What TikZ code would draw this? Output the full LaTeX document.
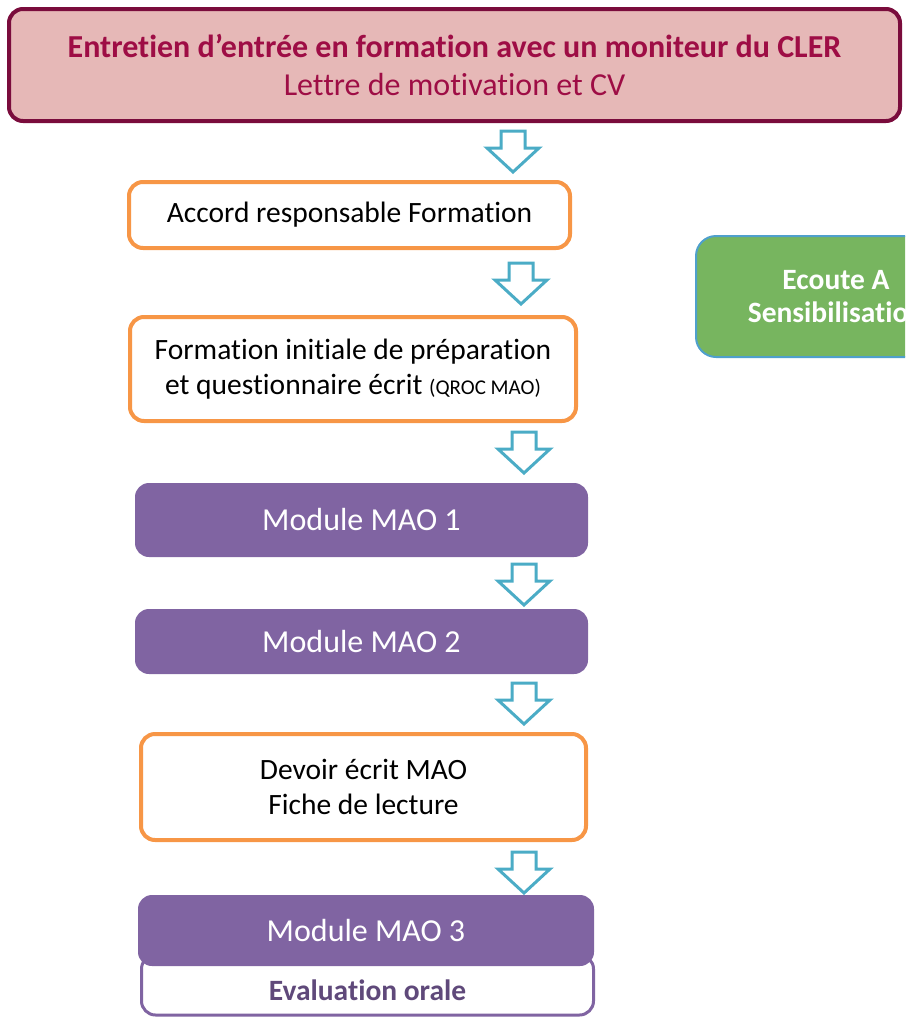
\documentclass[tikz,border=0pt]{standalone}
\usepackage{fontspec}
\setmainfont[Ligatures=NoCommon]{Carlito}

\definecolor{cadre}{HTML}{7A0C3C}
\definecolor{titre}{HTML}{9E0D45}
\definecolor{rose}{HTML}{E6B8B7}
\definecolor{orange}{HTML}{F79646}
\definecolor{mauve}{HTML}{8064A2}
\definecolor{mauvefonce}{HTML}{5F497A}
\definecolor{fleche}{HTML}{4BACC6}
\definecolor{vert}{HTML}{77B55F}
\definecolor{bordvert}{HTML}{4FA0CC}

\begin{document}
\begin{tikzpicture}
		[
		x = 1pt, y = -1pt,
		box/.style = {rectangle, rounded corners = 14pt, align = center, inner sep = 0pt},
		orangebox/.style = {box, draw = orange, line width = 4pt, fill = white, text = black, font = \fontsize{29.5}{35}\selectfont},
		purplebox/.style = {box, fill = mauve, text = white, font = \fontsize{32}{36}\selectfont},
		blockarrow/.pic = {
			\draw [fleche, line width = 3pt, fill = white]
			(-12,-41) -- (12,-41) -- (12,-24) -- (26,-24) -- (0,0) -- (-26,-24) -- (-12,-24) -- cycle;
		},
		]
		
		\useasboundingbox (0,0) rectangle (905,1017);
		\clip (0,0) rectangle (905,1017);
		
		\node [box, draw = cadre, line width = 4pt, fill = rose, text = titre,
			minimum width = 891pt, minimum height = 112pt, font = \fontsize{32}{38}\selectfont]
			(entretien) at (454.5,65)
			{\textbf{Entretien d’entrée en formation avec un moniteur du CLER}\\
			Lettre de motivation et CV};
		
		\node [orangebox, minimum width = 441pt, minimum height = 66pt]
			(accord) at (349.5,215) {Accord responsable Formation};
		
		\node [orangebox, minimum width = 446pt, minimum height = 104pt]
			(initiale) at (353,369)
			{Formation initiale de préparation\\
			et questionnaire écrit {\fontsize{21}{24}\selectfont (QROC MAO)}};
		
		\node [purplebox, minimum width = 453pt, minimum height = 74pt]
			(mao1) at (361.5,520) {Module MAO 1};
		
		\node [purplebox, minimum width = 453pt, minimum height = 65pt]
			(mao2) at (361.5,641.5) {Module MAO 2};
		
		\node [orangebox, minimum width = 445pt, minimum height = 106pt]
			(devoir) at (363.5,787) {Devoir écrit MAO\\Fiche de lecture};
		
		% evaluation sous le module 3
		\node [box, draw = mauve, line width = 3pt, fill = white, text = mauvefonce,
			minimum width = 452pt, minimum height = 60pt, font = \bfseries\fontsize{29.5}{32}\selectfont]
			(eval) at (367.5,985) {\raisebox{-5pt}[\height][\depth]{Evaluation orale}};
		
		\node [purplebox, minimum width = 456pt, minimum height = 71pt]
			(mao3) at (366,930.5) {Module MAO 3};
		
		\node [box, rounded corners = 20pt, draw = bordvert, line width = 2pt, fill = vert, text = white,
			minimum width = 280pt, minimum height = 121pt, font = \bfseries\fontsize{29.5}{33}\selectfont]
			(ecoute) at (836,296.5) {Ecoute A\\Sensibilisation};
		
		% fleches
		\foreach \px/\py in {513/172, 521/304, 524/473, 524/605, 524/724, 524/893}
			\pic at (\px,\py) {blockarrow};
		
		\end{tikzpicture}
\end{document}
